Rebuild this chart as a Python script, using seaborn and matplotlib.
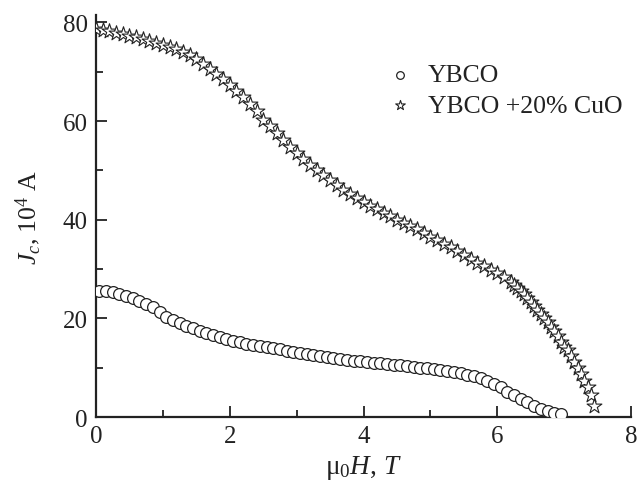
import matplotlib
matplotlib.use("Agg")
import matplotlib.pyplot as plt
import seaborn as sns
import pandas as pd
from matplotlib.ticker import MultipleLocator

# YBCO (circles)
h_ybco = [0.05, 0.15, 0.25, 0.35, 0.45, 0.55, 0.65, 0.75, 0.85, 0.95,
          1.05, 1.15, 1.25, 1.35, 1.45, 1.55, 1.65, 1.75, 1.85, 1.95,
          2.05, 2.15, 2.25, 2.35, 2.45, 2.55, 2.65, 2.75, 2.85, 2.95,
          3.05, 3.15, 3.25, 3.35, 3.45, 3.55, 3.65, 3.75, 3.85, 3.95,
          4.05, 4.15, 4.25, 4.35, 4.45, 4.55, 4.65, 4.75, 4.85, 4.95,
          5.05, 5.15, 5.25, 5.35, 5.45, 5.55, 5.65, 5.75, 5.85, 5.95,
          6.05, 6.15, 6.25, 6.35, 6.45, 6.55, 6.65, 6.75, 6.85, 6.95]
jc_ybco = [25.6, 25.5, 25.3, 25.0, 24.6, 24.1, 23.6, 23.0, 22.3, 21.3,
           20.3, 19.6, 19.0, 18.5, 18.0, 17.5, 17.0, 16.6, 16.2, 15.8,
           15.5, 15.2, 14.9, 14.6, 14.4, 14.2, 14.0, 13.7, 13.4, 13.1,
           12.9, 12.7, 12.5, 12.3, 12.1, 11.9, 11.7, 11.6, 11.4, 11.3,
           11.2, 11.0, 10.9, 10.8, 10.6, 10.5, 10.3, 10.2, 10.0, 9.9,
           9.7, 9.5, 9.3, 9.1, 8.9, 8.6, 8.3, 7.9, 7.4, 6.8,
           6.0, 5.1, 4.4, 3.7, 3.0, 2.3, 1.7, 1.2, 0.9, 0.6]

# YBCO + 20% CuO (stars)
h_cuo = [0.0, 0.1, 0.2, 0.3, 0.4, 0.5, 0.6, 0.7, 0.8, 0.9,
         1.0, 1.1, 1.2, 1.3, 1.4, 1.5, 1.6, 1.7, 1.8, 1.9,
         2.0, 2.1, 2.2, 2.3, 2.4, 2.5, 2.6, 2.7, 2.8, 2.9,
         3.0, 3.1, 3.2, 3.3, 3.4, 3.5, 3.6, 3.7, 3.8, 3.9,
         4.0, 4.1, 4.2, 4.3, 4.4, 4.5, 4.6, 4.7, 4.8, 4.9,
         5.0, 5.1, 5.2, 5.3, 5.4, 5.5, 5.6, 5.7, 5.8, 5.9,
         6.0, 6.1, 6.2, 6.25, 6.3, 6.35, 6.4, 6.45, 6.5, 6.55,
         6.6, 6.65, 6.7, 6.75, 6.8, 6.85, 6.9, 6.95, 7.0, 7.05,
         7.1, 7.15, 7.2, 7.25, 7.3, 7.35, 7.4, 7.45]
jc_cuo = [78.6, 78.4, 78.2, 77.9, 77.6, 77.3, 77.0, 76.6, 76.3, 75.9,
          75.5, 75.1, 74.6, 74.0, 73.3, 72.5, 71.6, 70.6, 69.6, 68.5,
          67.3, 66.1, 64.9, 63.5, 62.0, 60.3, 58.9, 57.5, 56.1, 54.8,
          53.5, 52.3, 51.1, 50.0, 49.0, 48.0, 47.0, 46.1, 45.2, 44.4,
          43.6, 42.8, 42.1, 41.4, 40.7, 40.0, 39.4, 38.8, 38.1, 37.3,
          36.5, 35.8, 35.1, 34.4, 33.6, 32.8, 32.1, 31.3, 30.6, 29.9,
          29.2, 28.3, 27.3, 26.7, 26.2, 25.6, 25.0, 24.2, 23.4, 22.6,
          21.8, 20.9, 20.1, 19.2, 18.3, 17.4, 16.4, 15.3, 14.3, 13.6,
          12.4, 11.2, 10.0, 8.7, 7.4, 6.0, 4.4, 2.2]

labels = ["YBCO", "YBCO +20% CuO"]

df1 = pd.DataFrame({"H": h_ybco, "Jc": jc_ybco, "sample": labels[0]})
df2 = pd.DataFrame({"H": h_cuo, "Jc": jc_cuo, "sample": labels[1]})

sns.set_style("ticks")
plt.rcParams["font.family"] = ["Liberation Serif", "DejaVu Serif"]
plt.rcParams["mathtext.fontset"] = "custom"
plt.rcParams["mathtext.rm"] = "Liberation Serif"
plt.rcParams["mathtext.it"] = "Liberation Serif:italic"

fig = plt.figure(figsize=(6.44, 4.85), dpi=100)
ax = fig.add_axes([0.149, 0.138, 0.831, 0.829])

sns.scatterplot(data=df1, x="H", y="Jc", marker="o", s=72, facecolor="white",
                edgecolor="#222222", linewidth=0.9, label=labels[0], ax=ax, zorder=3)
sns.scatterplot(data=df2, x="H", y="Jc", marker="*", s=125, facecolor="white",
                edgecolor="#222222", linewidth=0.8, label=labels[1], ax=ax, zorder=3)

ax.set_xlim(0, 8)
ax.set_ylim(0, 81.5)
ax.xaxis.set_major_locator(MultipleLocator(2))
ax.xaxis.set_minor_locator(MultipleLocator(1))
ax.yaxis.set_major_locator(MultipleLocator(20))
ax.yaxis.set_minor_locator(MultipleLocator(10))
ax.tick_params(which="both", direction="in", labelsize=18, colors="#222222", width=1.3)
ax.tick_params(which="major", length=8, pad=6)
ax.tick_params(which="minor", length=5)
for side in ["left", "bottom"]:
    ax.spines[side].set_linewidth(1.6)
    ax.spines[side].set_color("#222222")
sns.despine(ax=ax)

ax.set_xlabel("μ$_0$$H$, $T$", fontsize=19.5, labelpad=4, color="#222222")
ax.set_ylabel("$J_c$, 10$^4$ A", fontsize=18.5, labelpad=14, color="#222222")

ax.legend(frameon=False, loc="upper left", bbox_to_anchor=(0.5, 0.905),
          fontsize=18.5, handletextpad=0.1, labelspacing=0.3, borderaxespad=0,
          markerscale=0.65, labelcolor="#222222")

fig.savefig("out.png", dpi=100)
